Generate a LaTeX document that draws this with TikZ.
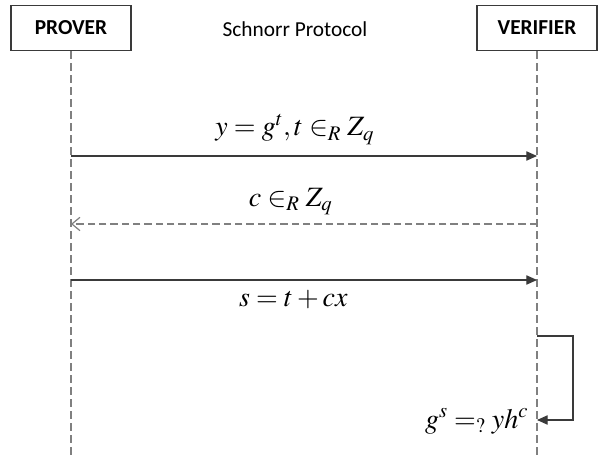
\documentclass[tikz,border=0pt]{standalone}
\usepackage{mathptmx}
\usepackage{fontspec}
\setmainfont{Carlito}
\usepackage{xcolor}
\usetikzlibrary{positioning,arrows.meta}

\definecolor{linegray}{HTML}{808080}
\definecolor{darkline}{HTML}{3A3A3A}

\begin{document}
\begin{tikzpicture}[
			x=0.75pt, y=-0.75pt,
			actor/.style={draw=darkline, line width=0.9pt, minimum width=90pt, minimum height=34pt, font=\fontsize{16}{18}\selectfont\bfseries},
			lifeline/.style={draw=linegray, line width=0.9pt, dash pattern=on 5.5pt off 3.5pt},
			msg/.style={-{Triangle[length=8pt,width=7pt]}, draw=darkline, line width=0.8pt},
			reply/.style={-{Straight Barb[length=6pt,width=10pt]}, draw=linegray, line width=0.9pt, dash pattern=on 5.5pt off 3pt},
			label/.style={font=\fontsize{21}{24}\selectfont}
			]
	\useasboundingbox (0,0) rectangle (599,459);
	
	%% Teilnehmer
	\node[actor] (prover) at (71,28) {PROVER};
	\node[actor] (verifier) at (537,28) {VERIFIER};
	\node[font=\fontsize{16}{18}\selectfont] (title) at (295,29) {Schnorr Protocol};
	
	%% Lebenslinien
	\coordinate (proverEnd) at (71,459);
	\coordinate (verifierEnd) at (537,459);
	\draw[lifeline] (prover.south) -- (proverEnd);
	\draw[lifeline] (verifier.south) -- (verifierEnd);
	
	%% Nachrichten
	\coordinate (p1) at (71,156);
	\coordinate (v1) at (537,156);
	\draw[msg] (p1) -- (v1) node[label, midway, above=5pt, xshift=-7pt] (commit) {$y = g^{t}, t \in_{R} Z_{q}$};
	
	\coordinate (v2) at (537,224);
	\coordinate (p2) at (71,224);
	\draw[reply] (v2) -- (p2) node[label, midway, above=3pt, xshift=-10pt] (challenge) {$c \in_{R} Z_{q}$};
	
	\coordinate (p3) at (71,280);
	\coordinate (v3) at (537,280);
	\draw[msg] (p3) -- (v3) node[label, midway, below=4pt, xshift=-8pt] (response) {$s = t + cx$};
	
	%% Prüfung beim Verifier
	\coordinate (loopStart) at (537,336);
	\coordinate (loopEnd) at (537,420);
	\draw[msg] (loopStart) -- ++(36,0) |- (loopEnd);
	\node[label, left=3pt of loopEnd, yshift=-1pt] (check) {$g^{s} =_{?} yh^{c}$};
	
\end{tikzpicture}
\end{document}
